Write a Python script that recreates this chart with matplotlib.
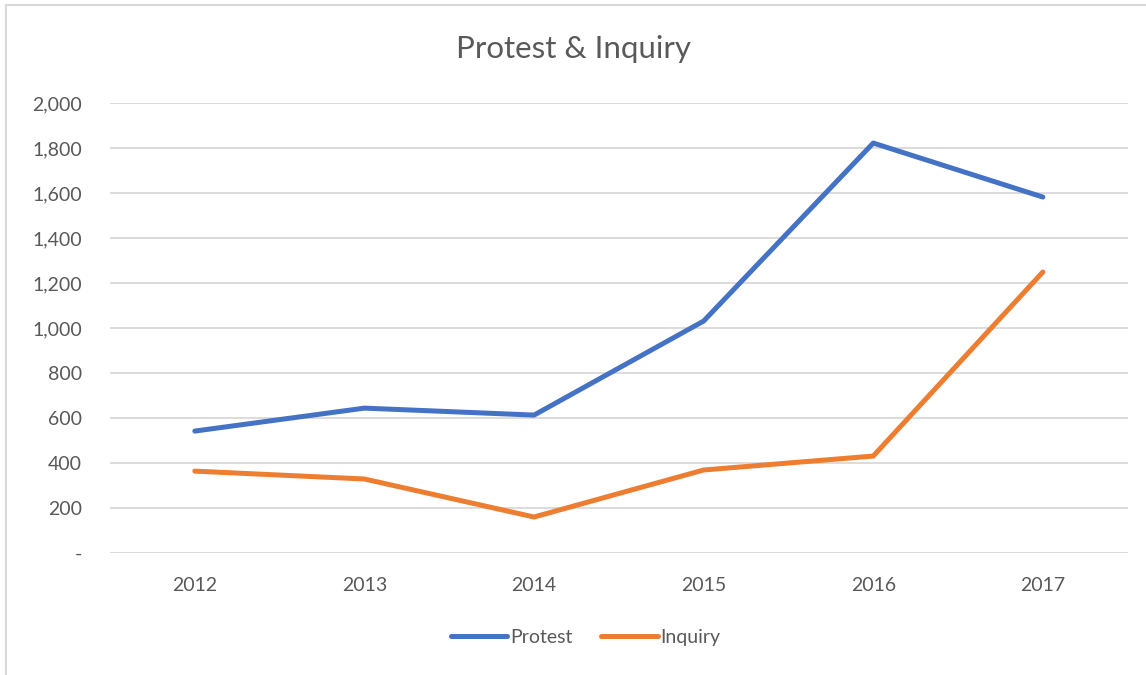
import matplotlib
matplotlib.use('Agg')
import matplotlib.pyplot as plt
from matplotlib.ticker import FuncFormatter

plt.rcParams['font.family'] = ['Lato', 'DejaVu Sans']

years = ['2012', '2013', '2014', '2015', '2016', '2017']
protest = [542, 644, 613, 1031, 1822, 1582]
inquiry = [364, 329, 160, 369, 431, 1249]

grey = '#595959'

fig = plt.figure(figsize=(11.46, 6.75), dpi=100)
ax = fig.add_axes([0.096, 0.1807, 0.888, 0.6667])

x = range(len(years))
ax.plot(x, protest, color='#4472C4', lw=3.6, solid_capstyle='round', solid_joinstyle='round', label='Protest')
ax.plot(x, inquiry, color='#ED7D31', lw=3.6, solid_capstyle='round', solid_joinstyle='round', label='Inquiry')

ax.set_xlim(-0.5, len(years) - 0.5)
ax.set_ylim(0, 2000)
ax.set_yticks(range(0, 2001, 200))
ax.yaxis.set_major_formatter(FuncFormatter(lambda v, p: '-' if v == 0 else f'{int(v):,}'))
ax.set_xticks(list(x))
ax.set_xticklabels(years)

ax.grid(axis='y', color='#D9D9D9', lw=1.3)
ax.set_axisbelow(True)
for s in ax.spines.values():
    s.set_visible(False)
ax.tick_params(length=0, labelsize=14, labelcolor=grey)
ax.tick_params(axis='y', pad=20)
ax.tick_params(axis='x', pad=17)

fig.suptitle('Protest & Inquiry', y=0.948, fontsize=22.5, color=grey)

leg = fig.legend(loc='center', bbox_to_anchor=(0.511, 0.056), ncol=2, frameon=False,
                 fontsize=14, handlelength=2.9, handletextpad=0.15, columnspacing=1.5)
for t in leg.get_texts():
    t.set_color(grey)

# chart frame (left/top edges visible)
fig.add_artist(plt.Line2D([0.005, 0.005], [0, 0.993], color='#D9D9D9', lw=1.5, transform=fig.transFigure))
fig.add_artist(plt.Line2D([0.005, 1], [0.993, 0.993], color='#D9D9D9', lw=1.5, transform=fig.transFigure))

fig.savefig('out.png', dpi=100)
